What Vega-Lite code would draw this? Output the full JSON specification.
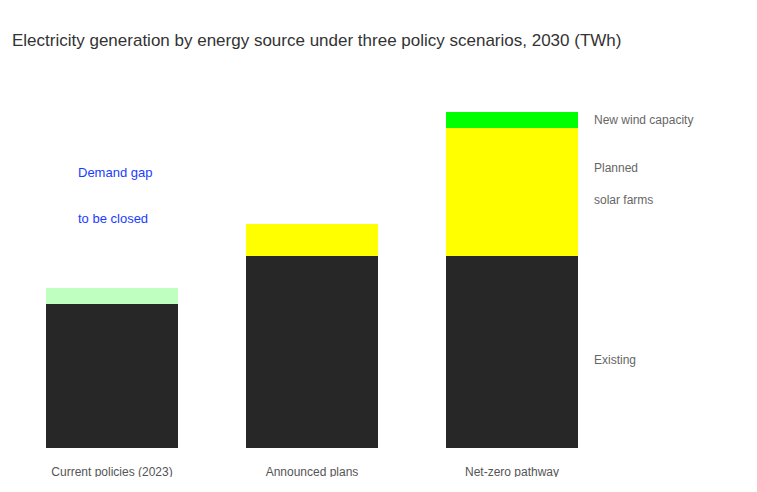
{
  "$schema": "https://vega.github.io/schema/vega-lite/v6.json",
  "width": 600,
  "height": 352,
  "padding": {"left": 12, "top": 32, "right": 0, "bottom": 0},
  "title": {
    "text": "Electricity generation by energy source under three policy scenarios, 2030 (TWh)",
    "anchor": "start",
    "fontSize": 17,
    "fontWeight": "normal",
    "color": "#333333",
    "font": "Liberation Sans",
    "offset": 46
  },
  "datasets": {
    "bars": [
      {"scenario": "Current policies (2023)", "source": "Existing fleet", "ord": 1, "twh": 45},
      {"scenario": "Current policies (2023)", "source": "Under review", "ord": 2, "twh": 5},
      {"scenario": "Announced plans", "source": "Existing fleet", "ord": 1, "twh": 60},
      {"scenario": "Announced plans", "source": "Planned solar", "ord": 2, "twh": 10},
      {"scenario": "Net-zero pathway", "source": "Existing fleet", "ord": 1, "twh": 60},
      {"scenario": "Net-zero pathway", "source": "Planned solar", "ord": 2, "twh": 40},
      {"scenario": "Net-zero pathway", "source": "New wind", "ord": 3, "twh": 5}
    ],
    "labels": [
      {"scenario": "Net-zero pathway", "y": 102.5, "label": "New wind capacity"},
      {"scenario": "Net-zero pathway", "y": 87.5, "label": ["Planned", "solar farms"]},
      {"scenario": "Net-zero pathway", "y": 27.5, "label": "Existing"}
    ],
    "notes": [
      {"scenario": "Current policies (2023)", "y": 86, "label": ["Demand gap", "to be closed"]}
    ]
  },
  "layer": [
    {
      "data": {"name": "bars"},
      "mark": {"type": "bar"},
      "encoding": {
        "x": {
          "field": "scenario",
          "type": "nominal",
          "sort": null,
          "scale": {"paddingInner": 0.34, "paddingOuter": 0.17},
          "axis": {
            "title": null,
            "domain": false,
            "ticks": false,
            "labelAngle": 0,
            "labelPadding": 18,
            "labelFontSize": 12,
            "labelColor": "#555555",
            "labelFont": "Liberation Sans"
          }
        },
        "y": {
          "field": "twh",
          "type": "quantitative",
          "stack": "zero",
          "scale": {"domain": [0, 110]},
          "axis": null
        },
        "order": {"field": "ord"},
        "color": {
          "field": "source",
          "type": "nominal",
          "scale": {
            "domain": ["Existing fleet", "Under review", "Planned solar", "New wind"],
            "range": ["#272727", "#bfffbf", "#ffff00", "#00ff00"]
          },
          "legend": null
        }
      }
    },
    {
      "data": {"name": "labels"},
      "mark": {
        "type": "text",
        "align": "left",
        "baseline": "middle",
        "dx": 82,
        "fontSize": 12,
        "lineHeight": 32,
        "color": "#666666",
        "font": "Liberation Sans"
      },
      "encoding": {
        "x": {"field": "scenario", "type": "nominal", "sort": null},
        "y": {"field": "y", "type": "quantitative"},
        "text": {"field": "label"}
      }
    },
    {
      "data": {"name": "notes"},
      "mark": {
        "type": "text",
        "align": "left",
        "baseline": "middle",
        "dx": -34,
        "fontSize": 13,
        "lineHeight": 46,
        "color": "#1a3cff",
        "font": "Liberation Sans"
      },
      "encoding": {
        "x": {"field": "scenario", "type": "nominal", "sort": null},
        "y": {"field": "y", "type": "quantitative"},
        "text": {"field": "label"}
      }
    }
  ],
  "config": {"view": {"stroke": null}}
}
